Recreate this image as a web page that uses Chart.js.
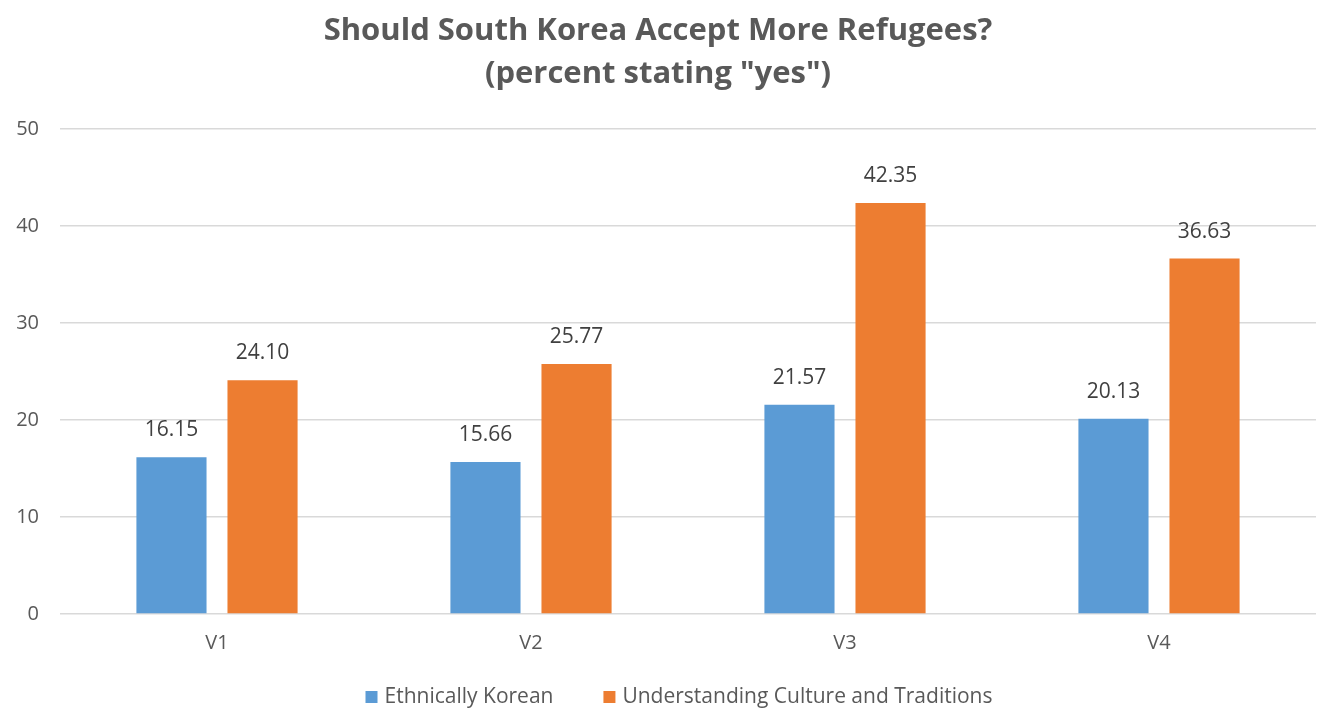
<!DOCTYPE html>
<html>
<head>
<meta charset="utf-8">
<script src="https://cdn.jsdelivr.net/npm/chart.js@4"></script>
<style>
  html, body { margin: 0; padding: 0; background: #ffffff; }
  #wrap { width: 1322px; height: 712px; position: relative; }
</style>
</head>
<body>
<div id="wrap"><canvas id="refugee-chart"></canvas></div>
<script>
// Kategori dan nilai (persen yang menjawab "yes")
var categories = ['V1', 'V2', 'V3', 'V4'];
var ethnicallyKorean = [16.15, 15.66, 21.57, 20.13];
var understandingCulture = [24.10, 25.77, 42.35, 36.63];
var yTicks = [0, 10, 20, 30, 40, 50];

var textColor = '#595959';
var fontFamily = '"Open Sans", sans-serif';

// Plugin kecil untuk menulis nilai di atas setiap batang
var valueLabels = {
    id: 'valueLabels',
    afterDatasetsDraw: function(chart) {
        var ctx = chart.ctx;
        ctx.save();
        ctx.font = '21px ' + fontFamily;
        ctx.fillStyle = '#404040';
        ctx.textAlign = 'center';
        ctx.textBaseline = 'middle';
        chart.data.datasets.forEach(function(ds, i) {
            chart.getDatasetMeta(i).data.forEach(function(bar, j) {
                ctx.fillText(ds.data[j].toFixed(2), bar.x, bar.y - 27);
            });
        });
        ctx.restore();
    }
};

// Legenda sendiri di bawah grafik (jarak antar item lebih lebar dari bawaan)
var bottomLegend = {
    id: 'bottomLegend',
    afterDraw: function(chart) {
        var ctx = chart.ctx;
        var box = 12, gapText = 7, gapItem = 50;
        ctx.save();
        ctx.font = '21px ' + fontFamily;
        ctx.textBaseline = 'middle';
        var items = chart.data.datasets.map(function(ds) {
            return { text: ds.label, color: ds.backgroundColor, w: ctx.measureText(ds.label).width };
        });
        var total = 0;
        items.forEach(function(it, i) {
            total += box + gapText + it.w + (i > 0 ? gapItem : 0);
        });
        var centerX = (chart.chartArea.left + chart.chartArea.right) / 2 - 9;
        var x = centerX - total / 2;
        var y = chart.height - 15;
        items.forEach(function(it) {
            ctx.fillStyle = it.color;
            ctx.fillRect(x, y - box / 2, box, box);
            ctx.fillStyle = textColor;
            ctx.fillText(it.text, x + box + gapText, y);
            x += box + gapText + it.w + gapItem;
        });
        ctx.restore();
    }
};

var ctx = document.getElementById('refugee-chart').getContext('2d');
new Chart(ctx, {
    type: 'bar',
    data: {
        labels: categories,
        datasets: [{
            label: 'Ethnically Korean',
            data: ethnicallyKorean,
            backgroundColor: '#5b9bd5'
        }, {
            label: 'Understanding Culture and Traditions',
            data: understandingCulture,
            backgroundColor: '#ed7d31'
        }]
    },
    options: {
        responsive: true,
        maintainAspectRatio: false,
        animation: false,
        layout: { padding: { left: 0, right: 6, top: 0, bottom: 48 } },
        datasets: {
            bar: { categoryPercentage: 0.58, barPercentage: 0.77 }
        },
        scales: {
            x: {
                grid: { display: false },
                border: { display: false },
                ticks: { color: textColor, font: { family: fontFamily, size: 20 }, padding: 9 }
            },
            y: {
                min: 0,
                max: 50,
                afterBuildTicks: function(axis) {
                    axis.ticks = yTicks.map(function(v) { return { value: v }; });
                },
                afterFit: function(axis) { axis.width = 60; },
                grid: { color: '#d9d9d9', lineWidth: 1.5, drawTicks: false },
                border: { display: false },
                ticks: { color: textColor, font: { family: fontFamily, size: 20 }, padding: 21 }
            }
        },
        plugins: {
            title: {
                display: true,
                text: ['Should South Korea Accept More Refugees?', '(percent stating "yes")'],
                color: textColor,
                font: { family: fontFamily, size: 31, weight: 'bold', lineHeight: 1.4 },
                padding: { top: 9, bottom: 33 }
            },
            legend: { display: false },
            tooltip: { enabled: false }
        }
    },
    plugins: [valueLabels, bottomLegend]
});
</script>
</body>
</html>
